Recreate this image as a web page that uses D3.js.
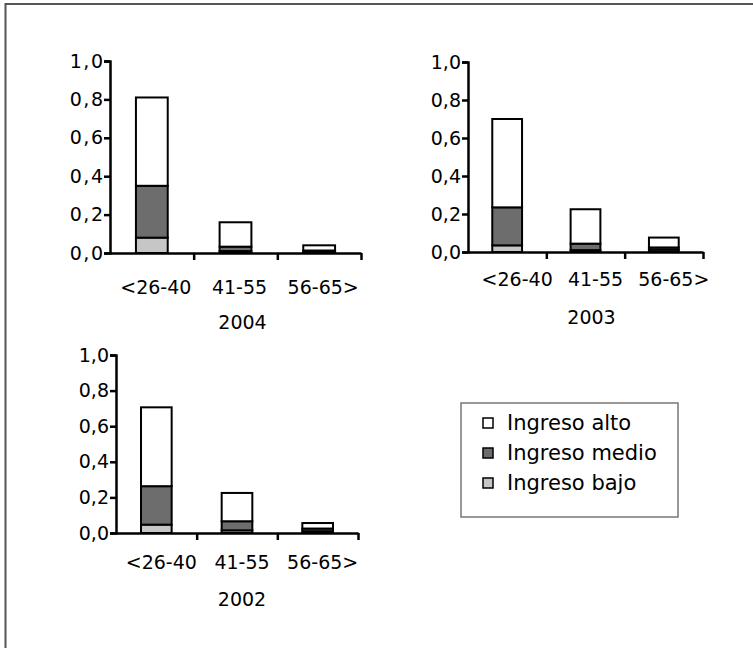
<!DOCTYPE html>
<html>
<head>
<meta charset="utf-8">
<script src="https://cdn.jsdelivr.net/npm/d3@7"></script>
<style>
  body { margin: 0; background: #fff; }
  svg { display: block; }
  text { font-family: "DejaVu Sans", sans-serif; fill: #000; }
</style>
</head>
<body>
<svg id="chart" width="753" height="648"></svg>
<script>
// =========
// Data
// =========

var age_groups = ['<26-40', '41-55', '56-65>'];
var income_keys = ['bajo', 'medio', 'alto'];
var legend_labels = ['Ingreso alto', 'Ingreso medio', 'Ingreso bajo'];
var y_ticks = [0, 0.2, 0.4, 0.6, 0.8, 1.0];

// stacked segment heights per age group
var bajo_2004 = [0.08, 0.01, 0.005];
var medio_2004 = [0.27, 0.023, 0.008];
var alto_2004 = [0.46, 0.127, 0.027];

var bajo_2003 = [0.035, 0.01, 0.012];
var medio_2003 = [0.2, 0.034, 0.012];
var alto_2003 = [0.465, 0.181, 0.052];

var bajo_2002 = [0.047, 0.015, 0.01];
var medio_2002 = [0.216, 0.051, 0.015];
var alto_2002 = [0.443, 0.159, 0.031];

var colors = {alto: '#ffffff', medio: '#6d6d6d', bajo: '#c6c6c6'};

function build_rows(bajo, medio, alto){
    return age_groups.map(function(g, i){
        return {group: g, bajo: bajo[i], medio: medio[i], alto: alto[i]};
    });
}

var svg = d3.select('#chart');

// outer frame
svg.append('rect')
    .attr('x', 5.5).attr('y', 4)
    .attr('width', 760).attr('height', 660)
    .attr('fill', 'none')
    .attr('stroke', '#555')
    .attr('stroke-width', 2);

var fmt = function(t){ return d3.format('.1f')(t).replace('.', ','); };

// =========
// Panel
// =========

function draw_panel(rows, year, box){
    var g = svg.append('g');

    var y = d3.scaleLinear().domain([0, 1]).range([box.bottom, box.top]);
    var x = d3.scaleBand().domain(age_groups)
        .range([box.left, box.right])
        .paddingInner(0.62).paddingOuter(0.31);
    var x_ticks = d3.scaleLinear().domain([0, 3]).range([box.left, box.right]);

    var series = d3.stack().keys(income_keys)(rows);

    g.selectAll('g.layer')
        .data(series)
        .enter()
        .append('g')
        .attr('class', 'layer')
        .attr('fill', function(d){ return colors[d.key]; })
        .selectAll('rect')
        .data(function(d){ return d; })
        .enter()
        .append('rect')
        .attr('x', function(d){ return x(d.data.group); })
        .attr('width', x.bandwidth())
        .attr('y', function(d){ return y(d[1]); })
        .attr('height', function(d){ return y(d[0]) - y(d[1]); })
        .attr('stroke', '#000')
        .attr('stroke-width', 2);

    var y_axis = g.append('g')
        .attr('transform', 'translate(' + box.left + ',0)')
        .call(d3.axisLeft(y).tickValues(y_ticks).tickSize(6)
              .tickPadding(1 - box.tick_spacing).tickFormat(fmt));

    var x_axis = g.append('g')
        .attr('transform', 'translate(0,' + box.bottom + ')')
        .call(d3.axisBottom(x_ticks).tickValues([1, 2, 3]).tickSize(7).tickSizeOuter(0).tickFormat(''));

    [y_axis, x_axis].forEach(function(a){
        a.select('.domain').attr('stroke', '#000').attr('stroke-width', 2.5);
        a.selectAll('.tick line').attr('stroke', '#000').attr('stroke-width', 2.5);
    });
    y_axis.selectAll('.tick text')
        .attr('font-size', 19)
        .attr('letter-spacing', box.tick_spacing)
        .attr('font-family', '"DejaVu Sans", sans-serif');

    g.selectAll('text.cat')
        .data(age_groups)
        .enter()
        .append('text')
        .attr('class', 'cat')
        .attr('x', function(d){ return x(d) + x.bandwidth() / 2 + box.label_dx; })
        .attr('y', box.bottom + box.label_dy)
        .attr('dy', '0.35em')
        .attr('text-anchor', 'middle')
        .attr('font-size', 19)
        .text(function(d){ return d; });

    g.append('text')
        .attr('x', (box.left + box.right) / 2 + box.year_dx)
        .attr('y', box.bottom + box.year_dy)
        .attr('dy', '0.35em')
        .attr('text-anchor', 'middle')
        .attr('font-size', 19)
        .text(year);
}

draw_panel(build_rows(bajo_2004, medio_2004, alto_2004), '2004',
           {left: 110, right: 361, top: 61, bottom: 253, label_dy: 34, year_dy: 69,
            label_dx: 4, year_dx: 7, tick_spacing: 1.5});
draw_panel(build_rows(bajo_2003, medio_2003, alto_2003), '2003',
           {left: 468, right: 703, top: 62, bottom: 252, label_dy: 27, year_dy: 65,
            label_dx: 10, year_dx: 6, tick_spacing: 0});
draw_panel(build_rows(bajo_2002, medio_2002, alto_2002), '2002',
           {left: 116, right: 358, top: 355, bottom: 533, label_dy: 29, year_dy: 66,
            label_dx: 5, year_dx: 5, tick_spacing: 0});

// =========
// Legend
// =========

var legend = svg.append('g');
legend.append('rect')
    .attr('x', 461).attr('y', 403)
    .attr('width', 217).attr('height', 114)
    .attr('fill', '#fff')
    .attr('stroke', '#777')
    .attr('stroke-width', 1.5);

var legend_keys = ['alto', 'medio', 'bajo'];
var item = legend.selectAll('g.item')
    .data(legend_keys)
    .enter()
    .append('g')
    .attr('class', 'item')
    .attr('transform', function(d, i){ return 'translate(483,' + (423 + i * 30) + ')'; });

item.append('rect')
    .attr('x', 0).attr('y', -5)
    .attr('width', 10).attr('height', 10)
    .attr('fill', function(d){ return colors[d]; })
    .attr('stroke', '#000')
    .attr('stroke-width', 1.5);

item.append('text')
    .attr('x', 24)
    .attr('dy', '0.35em')
    .attr('font-size', 21)
    .text(function(d, i){ return legend_labels[i]; });
</script>
</body>
</html>
